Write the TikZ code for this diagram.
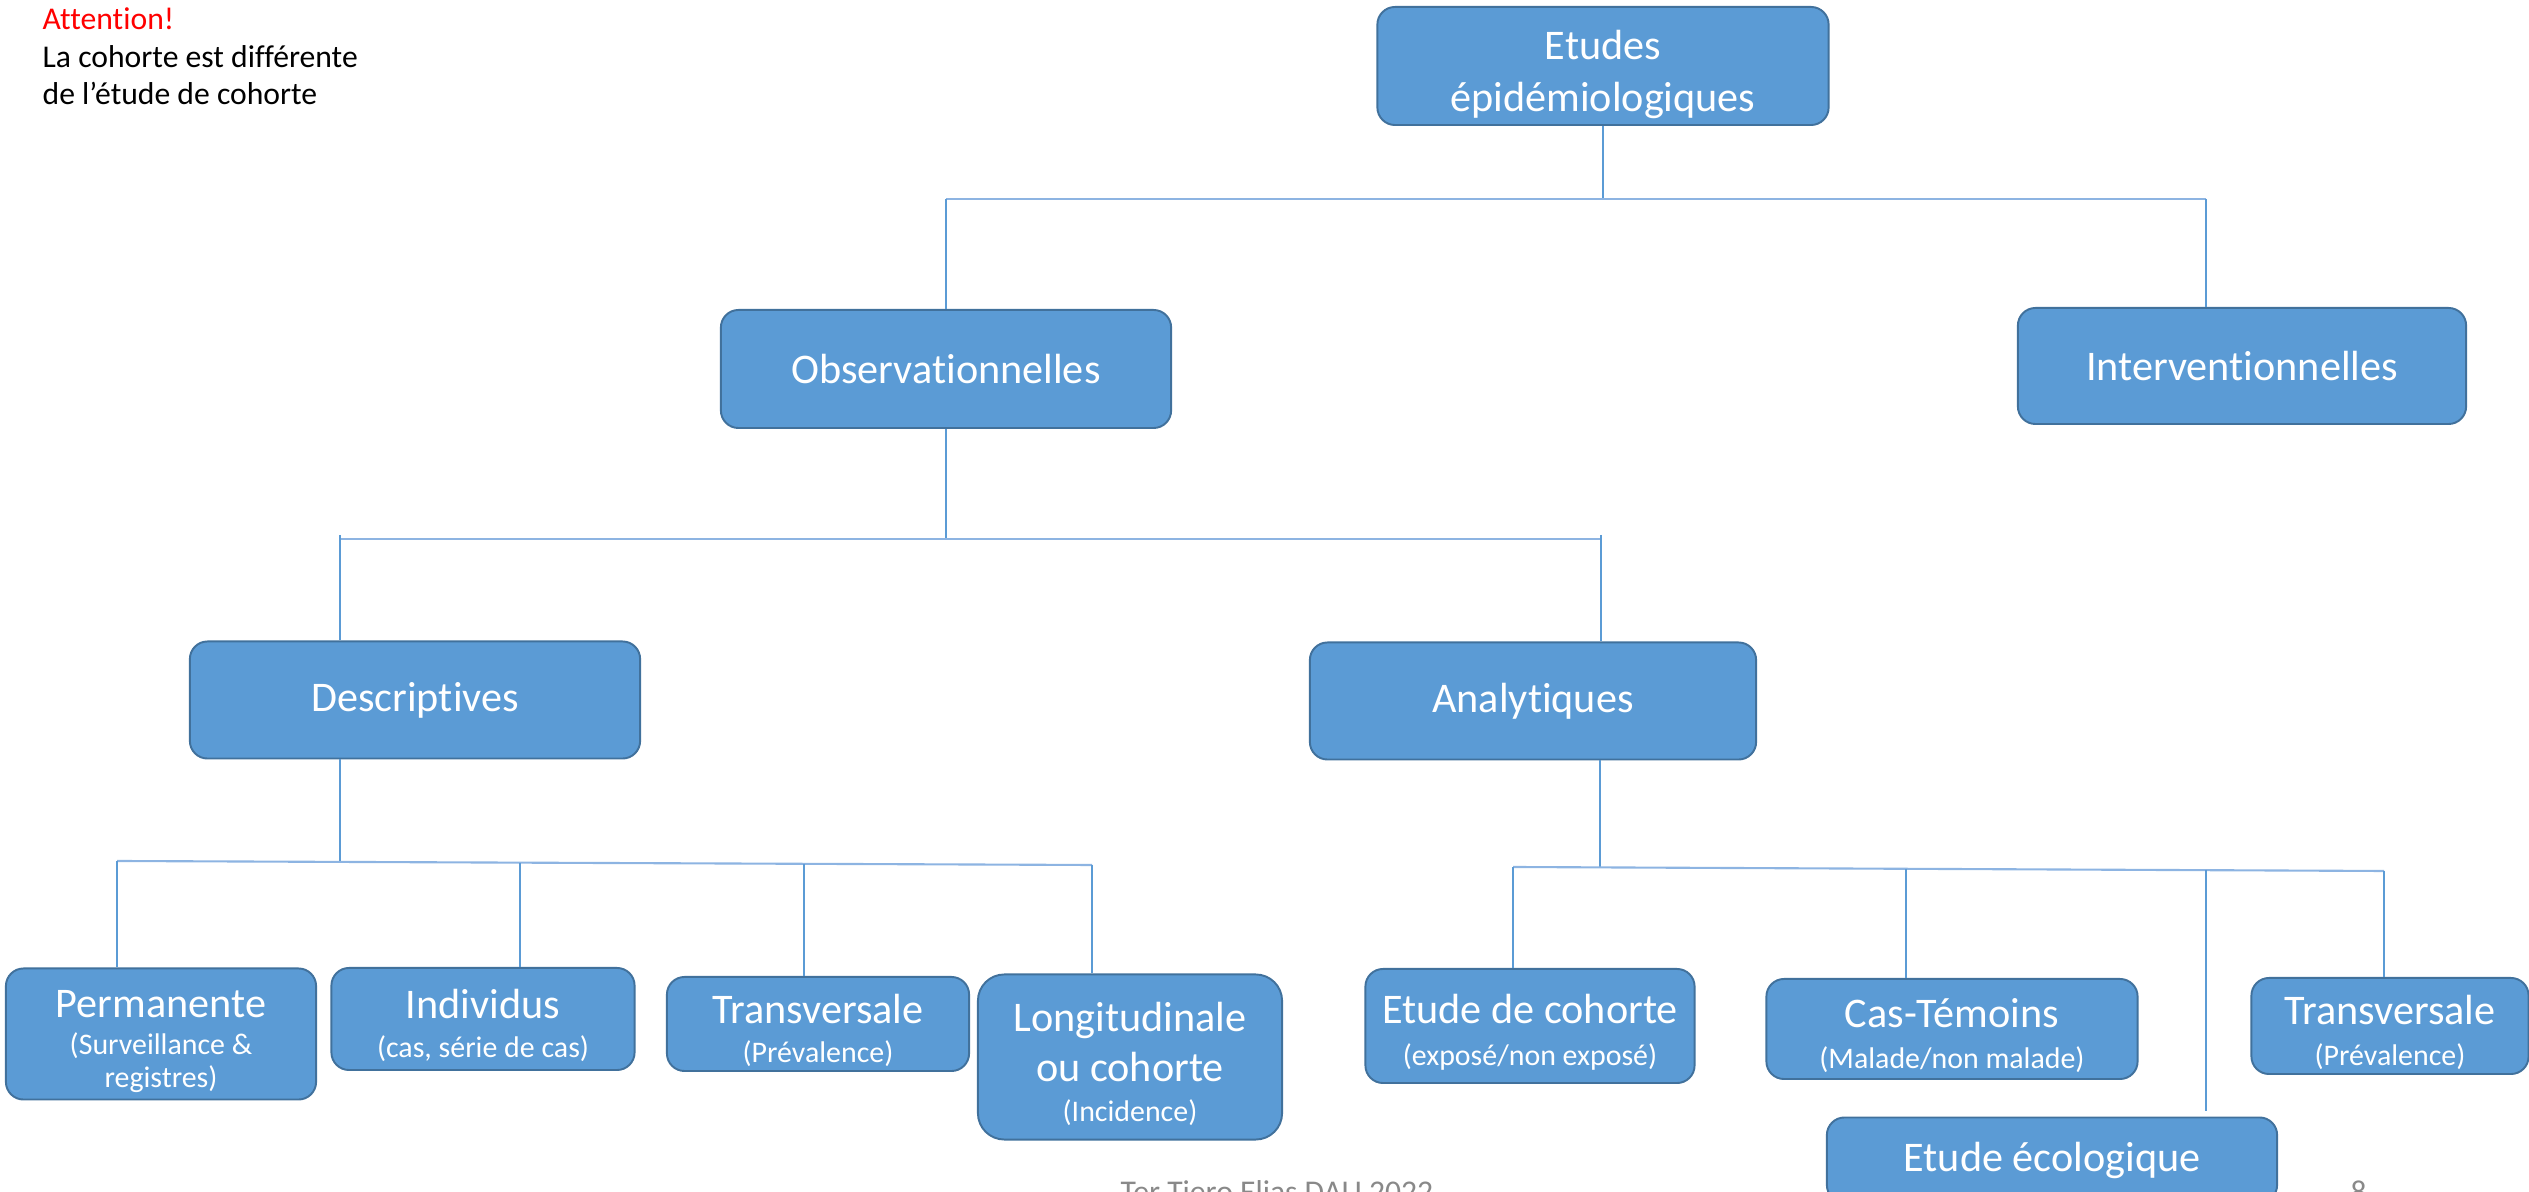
\documentclass[tikz,border=0pt]{standalone}
\usepackage{fontspec}
\setmainfont{Carlito}[Ligatures={TeX,NoCommon}]

\definecolor{boxfill}{HTML}{5B9BD5}
\definecolor{boxline}{HTML}{41719C}
\definecolor{wirecol}{HTML}{5B9BD5}
\definecolor{buscol}{HTML}{8DB4E2}
\definecolor{footgrey}{HTML}{898989}

\tikzset{
  etude/.style={draw=boxline, fill=boxfill, line width=0.55pt, rounded corners=5pt,
    text=white, align=center, inner sep=0pt, font=\fontsize{12}{14.8}\selectfont},
  wire/.style={draw=wirecol, line width=0.35pt},
  bus/.style={draw=buscol, line width=0.6pt},
  foot/.style={anchor=base west, text=footgrey, inner sep=0pt, font=\fontsize{9}{11}\selectfont}
}
\newcommand{\petit}{\fontsize{8.5}{10}\selectfont}
\newcommand{\haut}[1]{\rule{0pt}{#1}}

\begin{document}
\begin{tikzpicture}[x=0.01cm, y=-0.01cm]
\useasboundingbox (0,0) rectangle (2529,1192);

% remarque en haut a gauche
\node[anchor=north west, align=left, inner sep=0pt, font=\fontsize{9}{10.7}\selectfont] (remarque) at (42,7)
  {\textcolor{red}{Attention!}\\La cohorte est différente\\de l’étude de cohorte};

% les boites
\node[etude, minimum width=4.51cm, minimum height=1.18cm] (etudes) at (1603,66) {\haut{13pt}Etudes\\épidémiologiques};
\node[etude, minimum width=4.50cm, minimum height=1.18cm] (obs) at (946,369) {Observationnelles};
\node[etude, minimum width=4.48cm, minimum height=1.16cm] (interv) at (2242,366) {Interventionnelles};
\node[etude, minimum width=4.50cm, minimum height=1.17cm] (descr) at (415,700) {Descriptives};
\node[etude, minimum width=4.46cm, minimum height=1.17cm] (analyt) at (1533,701) {Analytiques};

\node[etude, minimum width=3.10cm, minimum height=1.31cm] (perm) at (161,1034)
  {\haut{12pt}Permanente\\[-4.3pt]{\petit (Surveillance \&}\\[-5.4pt]{\petit registres)}};
\node[etude, minimum width=3.03cm, minimum height=1.02cm] (indiv) at (483,1019)
  {\haut{12pt}Individus\\[-3.7pt]{\petit (cas, série de cas)}};
\node[etude, minimum width=3.02cm, minimum height=0.94cm] (transg) at (818,1024)
  {\haut{12pt}Transversale\\[-3.7pt]{\petit (Prévalence)}};
\node[etude, minimum width=3.04cm, minimum height=1.65cm, rounded corners=7.5pt] (longi) at (1130,1057)
  {\haut{12pt}Longitudinale\\[-0.3pt]ou cohorte\\[-3.7pt]{\petit (Incidence)}};

\node[etude, minimum width=3.29cm, minimum height=1.14cm] (cohorte) at (1530,1026)
  {\haut{12pt}Etude de cohorte\\[-2.8pt]{\petit (exposé/non exposé)}};
\node[etude, minimum width=3.71cm, minimum height=1.00cm] (castem) at (1952,1029)
  {\haut{12pt}Cas-Témoins\\[-3.1pt]{\petit (Malade/non malade)}};
\node[etude, minimum width=2.77cm, minimum height=0.96cm] (transd) at (2390,1026)
  {\haut{12pt}Transversale\\[-3.1pt]{\petit (Prévalence)}};
\node[etude, minimum width=4.50cm, minimum height=0.85cm] (ecolo) at (2052,1160) {Etude écologique};

% pied de page
\node[foot] (auteur) at (1120,1203) {Ter Tiero Elias DAU 2022};
\node[foot] (page) at (2350,1203) {8};

% niveau 1
\coordinate (j1) at (1603,199);
\coordinate (j1l) at (946,199);
\coordinate (j1r) at (2206,199);
\draw[wire] (etudes) -- (j1);
\draw[bus] (j1l) -- (j1r);
\draw[wire] (j1l) -- (obs);
\draw[wire] (j1r) -- (j1r |- interv.north);

% niveau 2
\coordinate (j2) at (946,539);
\coordinate (j2l) at (340,535);
\coordinate (j2r) at (1601,535);
\draw[wire] (obs) -- (j2);
\draw[bus] (j2l |- j2) -- (j2r |- j2);
\draw[wire] (j2l) -- (j2l |- descr.north);
\draw[wire] (j2r) -- (j2r |- analyt.north);

% descriptives
\coordinate (d0) at (340,861);
\coordinate (d1) at (117,861);
\coordinate (d2) at (520,863);
\coordinate (d3) at (804,864);
\coordinate (d4) at (1092,865);
\draw[wire] (d0 |- descr.south) -- (d0);
\draw[bus] (d1) -- (d4);
\draw[wire] (d1) -- (d1 |- perm.north);
\draw[wire] (d2) -- (d2 |- indiv.north);
\draw[wire] (d3) -- (d3 |- transg.north);
\draw[wire] (d4) -- (d4 |- longi.north);

% analytiques
\coordinate (a0) at (1600,867);
\coordinate (a1) at (1513,867);
\coordinate (a2) at (1906,869);
\coordinate (a3) at (2206,870);
\coordinate (a4) at (2384,871);
\draw[wire] (a0 |- analyt.south) -- (a0);
\draw[bus] (a1) -- (a4);
\draw[wire] (a1) -- (a1 |- cohorte.north);
\draw[wire] (a2) -- (a2 |- castem.north);
\draw[wire, shorten >=1.7pt] (a3) -- (a3 |- ecolo.north);
\draw[wire] (a4) -- (a4 |- transd.north);
\end{tikzpicture}
\end{document}
